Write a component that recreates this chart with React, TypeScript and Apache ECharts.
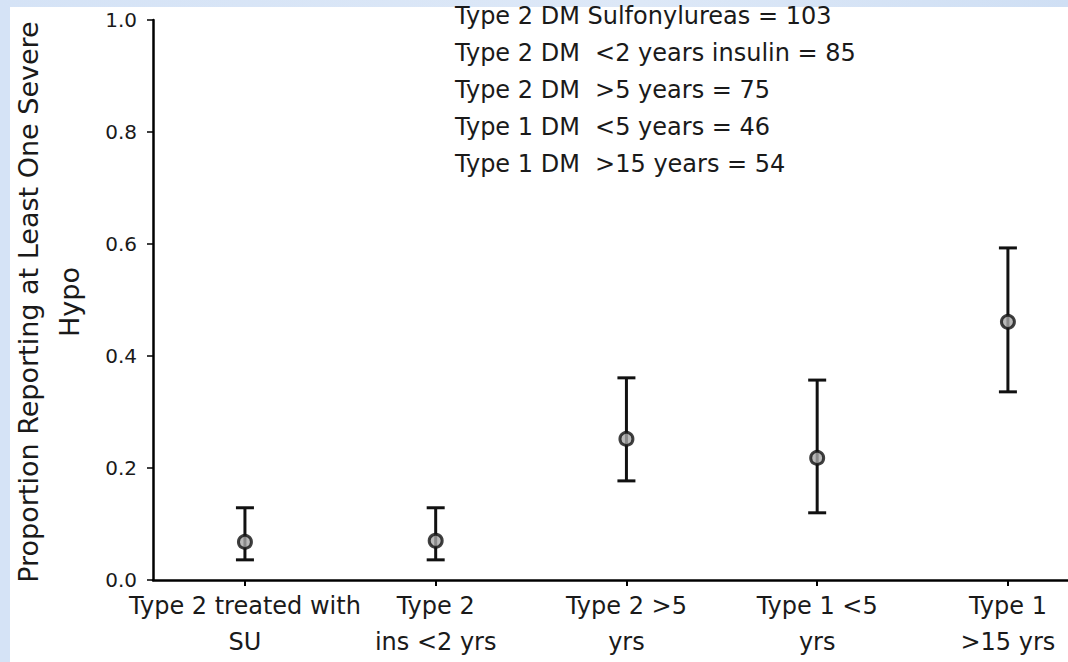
import React, { useEffect, useRef } from "react";
import * as echarts from "echarts";

const categories = [
  "Type 2 treated with\nSU",
  "Type 2\nins <2 yrs",
  "Type 2 >5\nyrs",
  "Type 1 <5\nyrs",
  "Type 1\n>15 yrs",
];
const categoryPositions = [0, 1, 2, 3, 4];
const means = [0.068, 0.07, 0.252, 0.218, 0.461];
const lowers = [0.036, 0.036, 0.177, 0.12, 0.336];
const uppers = [0.129, 0.129, 0.361, 0.357, 0.593];
const yTicks = [0, 0.2, 0.4, 0.6, 0.8, 1.0];
const noteLines = [
  "Type 2 DM Sulfonylureas = 103",
  "Type 2 DM  <2 years insulin = 85",
  "Type 2 DM  >5 years = 75",
  "Type 1 DM  <5 years = 46",
  "Type 1 DM  >15 years = 54",
];
const yTitleLines = ["Proportion Reporting at Least One Severe", "Hypo"];

const FONT = "'DejaVu Sans', sans-serif";

export default function App() {
  const ref = useRef<HTMLDivElement>(null);
  useEffect(() => {
    if (!ref.current) return;
    const chart = echarts.init(ref.current, null, { renderer: "svg" });
    const errData = categoryPositions.map((p, i) => [p, lowers[i], uppers[i]]);
    chart.setOption({
      animation: false,
      backgroundColor: "#ffffff",
      graphic: [
        {
          type: "rect",
          shape: { x: 0, y: 0, width: 10, height: 662 },
          style: { fill: "#d5e3f6" },
          silent: true,
        },
        {
          type: "rect",
          shape: { x: 0, y: 0, width: 1068, height: 7 },
          style: {
            fill: new echarts.graphic.LinearGradient(0, 0, 1, 0, [
              { offset: 0, color: "#d5e3f6" },
              { offset: 0.6, color: "#dde8f7" },
              { offset: 1, color: "#cfdff4" },
            ]),
          },
          silent: true,
        },
        ...noteLines.map((t, i) => ({
          type: "text",
          x: 455,
          y: 16 + i * 37,
          style: {
            text: t,
            font: `24px ${FONT}`,
            fill: "#1a1a1a",
            align: "left",
            verticalAlign: "middle",
          },
          z: 10,
        })),
        ...yTitleLines.map((t, i) => ({
          type: "text",
          x: 28 + i * 41,
          y: 302,
          rotation: Math.PI / 2,
          style: {
            text: t,
            font: `27px ${FONT}`,
            fill: "#1a1a1a",
            align: "center",
            verticalAlign: "middle",
          },
        })),
      ],
      grid: { left: 153, top: 20, height: 560, right: 0, containLabel: false },
      xAxis: {
        type: "value",
        min: -0.482,
        max: 4.315,
        axisLine: { onZero: false, lineStyle: { color: "#000", width: 2.5 } },
        axisTick: {
          show: true,
          customValues: categoryPositions,
          length: 6,
          lineStyle: { color: "#000", width: 2 },
        },
        axisLabel: {
          customValues: categoryPositions,
          formatter: (v: number) => categories[Math.round(v)] ?? "",
          color: "#1a1a1a",
          fontFamily: FONT,
          fontSize: 24,
          lineHeight: 36,
          margin: 8,
          showMinLabel: true,
          showMaxLabel: true,
          hideOverlap: false,
        },
        splitLine: { show: false },
      },
      yAxis: {
        type: "value",
        min: 0,
        max: 1,
        interval: 0.2,
        axisLine: { show: true, onZero: false, lineStyle: { color: "#000", width: 2.5 } },
        axisTick: { show: true, length: 6, lineStyle: { color: "#000", width: 1.5 } },
        axisLabel: {
          color: "#1a1a1a",
          fontFamily: FONT,
          fontSize: 20,
          margin: 16,
          formatter: (v: number) => (yTicks.includes(Math.round(v * 10) / 10) ? v.toFixed(1) : ""),
        },
        splitLine: { show: false },
      },
      series: [
        {
          type: "custom",
          data: errData,
          z: 2,
          renderItem: (params: any, api: any) => {
            const x = api.value(0);
            const lo = api.coord([x, api.value(1)]);
            const hi = api.coord([x, api.value(2)]);
            const hw = 9;
            const style = { stroke: "#111", lineWidth: 3 };
            return {
              type: "group",
              children: [
                { type: "line", shape: { x1: lo[0], y1: lo[1], x2: hi[0], y2: hi[1] }, style },
                { type: "line", shape: { x1: lo[0] - hw, y1: lo[1], x2: lo[0] + hw, y2: lo[1] }, style },
                { type: "line", shape: { x1: hi[0] - hw, y1: hi[1], x2: hi[0] + hw, y2: hi[1] }, style },
              ],
            };
          },
        },
        {
          type: "scatter",
          data: means.map((m, i) => [categoryPositions[i], m]),
          symbol: "circle",
          symbolSize: 13,
          z: 3,
          itemStyle: { color: "#a8a8a8", borderColor: "#111", borderWidth: 3 },
        },
      ],
    });
    return () => chart.dispose();
  }, []);
  return (
    <div
      ref={ref}
      style={{ position: "fixed", left: 0, top: 0, width: 1068, height: 662 }}
    />
  );
}
